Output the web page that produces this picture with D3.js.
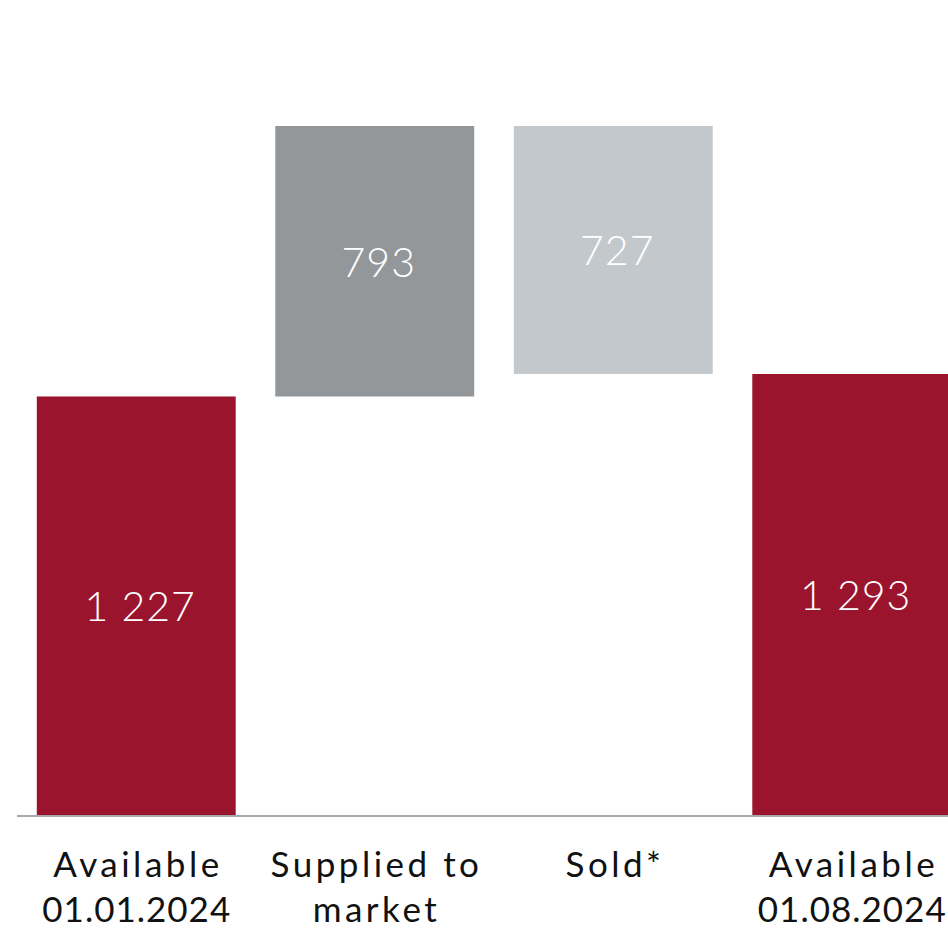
<!DOCTYPE html>
<html><head><meta charset="utf-8">
<script src="https://cdn.jsdelivr.net/npm/d3@7"></script>
<style>html,body{margin:0;padding:0;background:#fff;}</style>
</head><body>
<svg id="chart" width="948" height="930"></svg>
<script>
const categories = ["Available\n01.01.2024", "Supplied to\nmarket", "Sold*", "Available\n01.08.2024"];
const values = [1227, 793, -727, 1293];
const kinds = ["total", "increase", "decrease", "total"];
const valueLabels = ["1 227", "793", "727", "1 293"];
const colors = {total: "#9B142D", increase: "#93979A", decrease: "#C3C8CC"};

// build waterfall segments
let run = 0;
const data = categories.map((c, i) => {
  let start, end;
  if (kinds[i] === "total") { start = 0; end = values[i]; run = values[i]; }
  else { start = run; end = run + values[i]; run = end; }
  return {cat: c, start, end, kind: kinds[i], label: valueLabels[i]};
});

const svg = d3.select("#chart");
const x = d3.scaleBand().domain(categories).range([17, 971]).paddingInner(0.166).paddingOuter(0.083);
const y = d3.scaleLinear().domain([0, 2020]).range([815, 126]);

svg.selectAll("rect.bar").data(data).join("rect")
  .attr("class", "bar")
  .attr("x", d => x(d.cat))
  .attr("width", x.bandwidth())
  .attr("y", d => y(Math.max(d.start, d.end)))
  .attr("height", d => Math.abs(y(d.start) - y(d.end)))
  .attr("fill", d => colors[d.kind]);

svg.selectAll("text.val").data(data).join("text")
  .attr("class", "val")
  .attr("x", d => x(d.cat) + x.bandwidth() / 2)
  .attr("dx", 4)
  .attr("y", d => (y(d.start) + y(d.end)) / 2)
  .attr("text-anchor", "middle")
  .attr("dominant-baseline", "central")
  .attr("fill", "#fff")
  .style("font-family", "Lato, 'DejaVu Sans', sans-serif")
  .style("font-weight", 300)
  .style("font-size", "41px")
  .style("letter-spacing", "1px")
  .text(d => d.label);

// axis line
svg.append("line")
  .attr("x1", 17).attr("x2", 948)
  .attr("y1", y(0) + 1).attr("y2", y(0) + 1)
  .attr("stroke", "#A6A9AC").attr("stroke-width", 2);

const cl = svg.selectAll("text.cat").data(categories).join("text")
  .attr("class", "cat")
  .attr("text-anchor", "middle")
  .attr("fill", "#111")
  .style("font-family", "Lato, 'DejaVu Sans', sans-serif")
  .style("font-size", "35px");
cl.each(function(c) {
  const t = d3.select(this);
  c.split("\n").forEach((line, i) => {
    const numeric = /^[0-9.]+$/.test(line);
    t.append("tspan")
      .attr("x", x(c) + x.bandwidth() / 2)
      .attr("dx", numeric ? 0.5 : 1.75)
      .attr("y", 877 + i * 45)
      .style("letter-spacing", numeric ? "1px" : "3.5px")
      .text(line);
  });
});
</script>
</body></html>
